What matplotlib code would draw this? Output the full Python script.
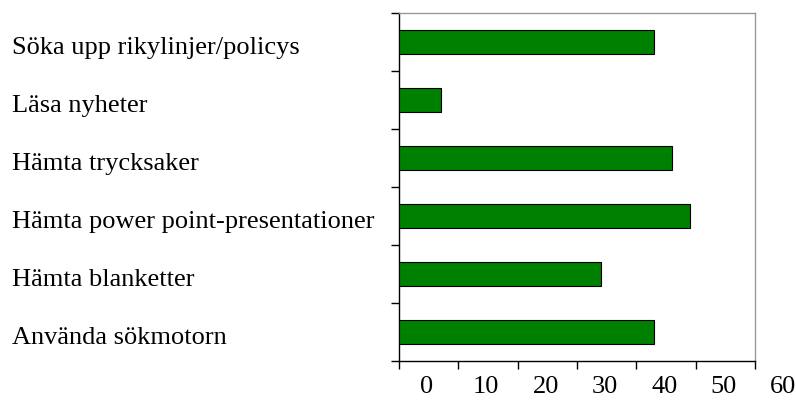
import matplotlib
matplotlib.use("Agg")
import matplotlib.pyplot as plt
import matplotlib.transforms as mtransforms

categories = ["Söka upp rikylinjer/policys", "Läsa nyheter", "Hämta trycksaker",
              "Hämta power point-presentationer", "Hämta blanketter", "Använda sökmotorn"]
values = [43, 7, 46, 49, 34, 43]
xticks = [0, 10, 20, 30, 40, 50, 60]

plt.rcParams['font.family'] = ['Liberation Serif', 'DejaVu Serif']

fig = plt.figure(figsize=(7.96, 4.00), dpi=100)
ax = fig.add_axes([399/796, 1 - 361/400, (755-399)/796, (361-13)/400])

n = len(categories)
ypos = list(range(n))
ax.barh(ypos, values, height=0.4, color='#008000', edgecolor='black', linewidth=0.8, zorder=3)
ax.set_xlim(0, 60)
ax.set_ylim(n - 0.5, -0.5)

ax.set_xticks(xticks)
ax.set_xticklabels([])
ax.tick_params(axis='x', direction='out', length=6, width=1, color='black')
trans = mtransforms.blended_transform_factory(ax.transData, ax.transAxes) + \
    mtransforms.ScaledTranslation(28/100, -26/100, fig.dpi_scale_trans)
for t in xticks:
    ax.text(t, 0, str(t), transform=trans, fontsize=19, ha='center', va='center')

ax.set_yticks([i - 0.5 for i in range(n + 1)], minor=False)
ax.set_yticklabels([])
ax.tick_params(axis='y', direction='out', length=6, width=1, color='black')
ytrans = mtransforms.blended_transform_factory(fig.transFigure, ax.transData) + \
    mtransforms.ScaledTranslation(0, -6/100, fig.dpi_scale_trans)
for i, c in enumerate(categories):
    ax.text(12/796, i, c, transform=ytrans, fontsize=19, va='center', ha='left')

ax.spines['left'].set_color('black')
ax.spines['bottom'].set_color('black')
ax.spines['top'].set_color('#999999')
ax.spines['right'].set_color('#999999')
for s in ax.spines.values():
    s.set_linewidth(1)

fig.savefig("out.png", dpi=100)
